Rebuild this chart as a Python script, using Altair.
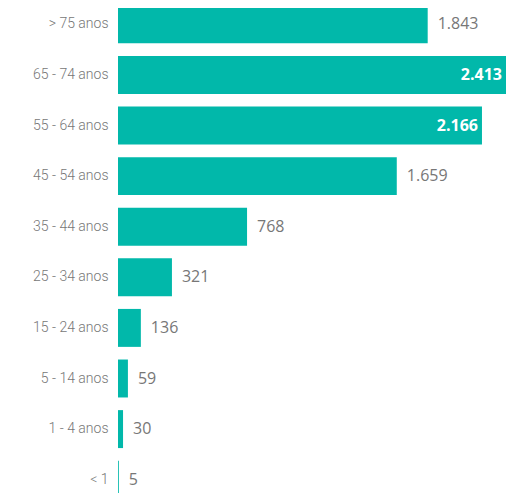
import altair as alt
import pandas as pd

categories = ["> 75 anos", "65 - 74 anos", "55 - 64 anos", "45 - 54 anos", "35 - 44 anos",
              "25 - 34 anos", "15 - 24 anos", "5 - 14 anos", "1 - 4 anos", "< 1"]
values = [1843, 2413, 2166, 1659, 768, 321, 136, 59, 30, 5]
inside = [False, True, True, False, False, False, False, False, False, False]

df = pd.DataFrame({
    "cat": categories,
    "v": values,
    "inside": inside,
    "label": [f"{v:,}".replace(",", ".") for v in values],
})

TEAL = "#01B8AA"
AXFONT = "Roboto"
FONT = "Open Sans"
xs = alt.Scale(domain=[0, 2309], clamp=True, nice=False, zero=True)
ys = alt.Scale(domain=categories, paddingInner=0.25, paddingOuter=0.125)

base = alt.Chart(df).encode(
    y=alt.Y("cat:N", sort=categories, scale=ys,
            axis=alt.Axis(title=None, domain=False, ticks=False, labelPadding=10,
                          labelFontSize=14, labelFontWeight=300, labelColor="#777777",
                          labelFont=AXFONT, minExtent=110, maxExtent=110)),
)

bars = base.mark_bar(color=TEAL).encode(
    x=alt.X("v:Q", scale=xs, axis=None),
)

out_labels = base.transform_filter("!datum.inside").mark_text(
    align="left", dx=10, fontSize=16, color="#777777", font=FONT
).encode(x=alt.X("v:Q", scale=xs), text="label:N")

in_labels = base.transform_filter("datum.inside").mark_text(
    align="right", dx=-4, fontSize=16, color="#ffffff", font=FONT, fontWeight="bold"
).encode(x=alt.X("v:Q", scale=xs), text="label:N")

chart = (bars + out_labels + in_labels).properties(
    width=388, height=506,
    padding={"top": -9, "bottom": -12, "left": 0, "right": 0},
).configure_view(stroke=None)

chart.save("out.html", embed_options={"renderer": "svg", "actions": False})
